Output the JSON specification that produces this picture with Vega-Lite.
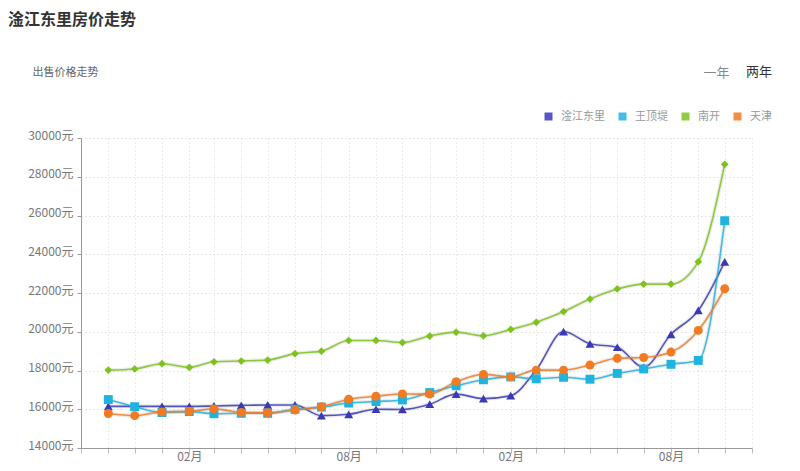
{
  "$schema": "https://vega.github.io/schema/vega-lite/v6.json",
  "width": 671,
  "height": 310,
  "autosize": "none",
  "padding": {"left": 81, "top": 138, "right": 48, "bottom": 23},
  "background": "white",
  "config": {
    "font": "Noto Sans CJK SC",
    "view": {"stroke": null}
  },
  "title": {
    "text": "淦江东里房价走势",
    "anchor": "start",
    "frame": "group",
    "dx": -73,
    "offset": 38,
    "fontSize": 16,
    "fontWeight": "bold",
    "color": "#333333"
  },
  "data": {
    "values": [
      {"month": "2014-11-01", "area": "淦江东里", "price": 16150},
      {"month": "2014-12-01", "area": "淦江东里", "price": 16150},
      {"month": "2015-01-01", "area": "淦江东里", "price": 16150},
      {"month": "2015-02-01", "area": "淦江东里", "price": 16150},
      {"month": "2015-03-01", "area": "淦江东里", "price": 16170},
      {"month": "2015-04-01", "area": "淦江东里", "price": 16200},
      {"month": "2015-05-01", "area": "淦江东里", "price": 16220},
      {"month": "2015-06-01", "area": "淦江东里", "price": 16220},
      {"month": "2015-07-01", "area": "淦江东里", "price": 15670},
      {"month": "2015-08-01", "area": "淦江东里", "price": 15740},
      {"month": "2015-09-01", "area": "淦江东里", "price": 16000},
      {"month": "2015-10-01", "area": "淦江东里", "price": 15990},
      {"month": "2015-11-01", "area": "淦江东里", "price": 16260},
      {"month": "2015-12-01", "area": "淦江东里", "price": 16780},
      {"month": "2016-01-01", "area": "淦江东里", "price": 16550},
      {"month": "2016-02-01", "area": "淦江东里", "price": 16700},
      {"month": "2016-03-01", "area": "淦江东里", "price": 18030},
      {"month": "2016-04-01", "area": "淦江东里", "price": 20010},
      {"month": "2016-05-01", "area": "淦江东里", "price": 19380},
      {"month": "2016-06-01", "area": "淦江东里", "price": 19200},
      {"month": "2016-07-01", "area": "淦江东里", "price": 18160},
      {"month": "2016-08-01", "area": "淦江东里", "price": 19870},
      {"month": "2016-09-01", "area": "淦江东里", "price": 21100},
      {"month": "2016-10-01", "area": "淦江东里", "price": 23610},
      {"month": "2014-11-01", "area": "王顶堤", "price": 16500},
      {"month": "2014-12-01", "area": "王顶堤", "price": 16130},
      {"month": "2015-01-01", "area": "王顶堤", "price": 15830},
      {"month": "2015-02-01", "area": "王顶堤", "price": 15880},
      {"month": "2015-03-01", "area": "王顶堤", "price": 15770},
      {"month": "2015-04-01", "area": "王顶堤", "price": 15790},
      {"month": "2015-05-01", "area": "王顶堤", "price": 15790},
      {"month": "2015-06-01", "area": "王顶堤", "price": 16000},
      {"month": "2015-07-01", "area": "王顶堤", "price": 16110},
      {"month": "2015-08-01", "area": "王顶堤", "price": 16320},
      {"month": "2015-09-01", "area": "王顶堤", "price": 16400},
      {"month": "2015-10-01", "area": "王顶堤", "price": 16480},
      {"month": "2015-11-01", "area": "王顶堤", "price": 16860},
      {"month": "2015-12-01", "area": "王顶堤", "price": 17210},
      {"month": "2016-01-01", "area": "王顶堤", "price": 17520},
      {"month": "2016-02-01", "area": "王顶堤", "price": 17670},
      {"month": "2016-03-01", "area": "王顶堤", "price": 17570},
      {"month": "2016-04-01", "area": "王顶堤", "price": 17650},
      {"month": "2016-05-01", "area": "王顶堤", "price": 17550},
      {"month": "2016-06-01", "area": "王顶堤", "price": 17850},
      {"month": "2016-07-01", "area": "王顶堤", "price": 18080},
      {"month": "2016-08-01", "area": "王顶堤", "price": 18320},
      {"month": "2016-09-01", "area": "王顶堤", "price": 18520},
      {"month": "2016-10-01", "area": "王顶堤", "price": 25730},
      {"month": "2014-11-01", "area": "南开", "price": 18020},
      {"month": "2014-12-01", "area": "南开", "price": 18080},
      {"month": "2015-01-01", "area": "南开", "price": 18350},
      {"month": "2015-02-01", "area": "南开", "price": 18160},
      {"month": "2015-03-01", "area": "南开", "price": 18450},
      {"month": "2015-04-01", "area": "南开", "price": 18490},
      {"month": "2015-05-01", "area": "南开", "price": 18540},
      {"month": "2015-06-01", "area": "南开", "price": 18870},
      {"month": "2015-07-01", "area": "南开", "price": 19000},
      {"month": "2015-08-01", "area": "南开", "price": 19550},
      {"month": "2015-09-01", "area": "南开", "price": 19550},
      {"month": "2015-10-01", "area": "南开", "price": 19440},
      {"month": "2015-11-01", "area": "南开", "price": 19780},
      {"month": "2015-12-01", "area": "南开", "price": 19980},
      {"month": "2016-01-01", "area": "南开", "price": 19790},
      {"month": "2016-02-01", "area": "南开", "price": 20120},
      {"month": "2016-03-01", "area": "南开", "price": 20490},
      {"month": "2016-04-01", "area": "南开", "price": 21040},
      {"month": "2016-05-01", "area": "南开", "price": 21690},
      {"month": "2016-06-01", "area": "南开", "price": 22210},
      {"month": "2016-07-01", "area": "南开", "price": 22460},
      {"month": "2016-08-01", "area": "南开", "price": 22460},
      {"month": "2016-09-01", "area": "南开", "price": 23610},
      {"month": "2016-10-01", "area": "南开", "price": 28640},
      {"month": "2014-11-01", "area": "天津", "price": 15780},
      {"month": "2014-12-01", "area": "天津", "price": 15670},
      {"month": "2015-01-01", "area": "天津", "price": 15860},
      {"month": "2015-02-01", "area": "天津", "price": 15890},
      {"month": "2015-03-01", "area": "天津", "price": 16020},
      {"month": "2015-04-01", "area": "天津", "price": 15840},
      {"month": "2015-05-01", "area": "天津", "price": 15820},
      {"month": "2015-06-01", "area": "天津", "price": 15960},
      {"month": "2015-07-01", "area": "天津", "price": 16130},
      {"month": "2015-08-01", "area": "天津", "price": 16520},
      {"month": "2015-09-01", "area": "天津", "price": 16670},
      {"month": "2015-10-01", "area": "天津", "price": 16790},
      {"month": "2015-11-01", "area": "天津", "price": 16780},
      {"month": "2015-12-01", "area": "天津", "price": 17420},
      {"month": "2016-01-01", "area": "天津", "price": 17800},
      {"month": "2016-02-01", "area": "天津", "price": 17670},
      {"month": "2016-03-01", "area": "天津", "price": 18020},
      {"month": "2016-04-01", "area": "天津", "price": 18020},
      {"month": "2016-05-01", "area": "天津", "price": 18280},
      {"month": "2016-06-01", "area": "天津", "price": 18630},
      {"month": "2016-07-01", "area": "天津", "price": 18670},
      {"month": "2016-08-01", "area": "天津", "price": 18950},
      {"month": "2016-09-01", "area": "天津", "price": 20070},
      {"month": "2016-10-01", "area": "天津", "price": 22220}
    ]
  },
  "encoding": {
    "x": {
      "field": "month",
      "type": "temporal",
      "scale": {
        "type": "utc",
        "domain": [
          {"year": 2014, "month": 10, "date": 1, "utc": true},
          {"year": 2016, "month": 11, "date": 1, "utc": true}
        ]
      },
      "axis": {
        "tickCount": {"interval": "month", "step": 1},
        "labelExpr": "(utcFormat(datum.value, '%m') == '02' || utcFormat(datum.value, '%m') == '08') ? utcFormat(datum.value, '%m') + '月' : ''",
        "labelOverlap": false,
        "labelFlush": false,
        "labelFontSize": 12,
        "labelColor": "#777777",
        "labelPadding": -2,
        "tickSize": 5,
        "tickColor": "#bbbbbb",
        "domainColor": "#999999",
        "grid": true,
        "gridColor": "#d6d6d6",
        "gridDash": [1, 3],
        "title": "出售价格走势",
        "titleX": -49,
        "titleY": -376,
        "titleAlign": "left",
        "titleAnchor": null,
        "titleBaseline": "middle",
        "titleFontSize": 11,
        "titleFontWeight": "normal",
        "titleColor": "#666666"
      }
    },
    "y": {
      "field": "price",
      "type": "quantitative",
      "scale": {"domain": [14000, 30000], "nice": false, "zero": false},
      "axis": {
        "values": [14000, 16000, 18000, 20000, 22000, 24000, 26000, 28000, 30000],
        "labelExpr": "datum.value + '元'",
        "labelFontSize": 12,
        "labelColor": "#777777",
        "labelPadding": 4,
        "labelOffset": -3,
        "tickSize": 4,
        "tickColor": "#999999",
        "domainColor": "#999999",
        "grid": true,
        "gridColor": "#cccccc",
        "gridDash": [1, 3],
        "title": "一年",
        "titleAngle": 0,
        "titleX": 622,
        "titleY": -66,
        "titleAlign": "left",
        "titleAnchor": null,
        "titleBaseline": "middle",
        "titleFontSize": 13,
        "titleFontWeight": "normal",
        "titleColor": "#888888"
      }
    },
    "color": {
      "field": "area",
      "type": "nominal",
      "scale": {
        "domain": ["淦江东里", "王顶堤", "南开", "天津"],
        "range": ["#3b39b5", "#1fb3e0", "#7cc41c", "#f27a21"]
      },
      "legend": {
        "orient": "none",
        "legendX": 462,
        "legendY": -72,
        "direction": "horizontal",
        "symbolType": "square",
        "symbolSize": 64,
        "symbolStrokeWidth": 0,
        "labelFontSize": 11,
        "labelColor": "#999999",
        "labelOffset": 7,
        "columnPadding": 12,
        "gridAlign": "none",
        "padding": 0,
        "title": "两年",
        "titleAnchor": "end",
        "titleFontSize": 13,
        "titleFontWeight": "normal",
        "titleColor": "#333333",
        "titlePadding": 32
      }
    }
  },
  "layer": [
    {
      "mark": {"type": "line", "interpolate": "monotone", "strokeWidth": 4, "opacity": 0.12, "color": "#666666"},
      "encoding": {"color": {"value": "#666666"}, "detail": {"field": "area", "type": "nominal"}}
    },
    {
      "mark": {"type": "line", "interpolate": "monotone", "strokeWidth": 1.6, "opacity": 0.85}
    },
    {
      "transform": [{"filter": "datum.area == '淦江东里'"}],
      "mark": {"type": "point", "filled": true, "size": 80, "opacity": 1, "shape": "triangle-up"}
    },
    {
      "transform": [{"filter": "datum.area == '王顶堤'"}],
      "mark": {"type": "point", "filled": true, "size": 80, "opacity": 1, "shape": "square"}
    },
    {
      "transform": [{"filter": "datum.area == '南开'"}],
      "mark": {"type": "point", "filled": true, "size": 60, "opacity": 1, "shape": "diamond"}
    },
    {
      "transform": [{"filter": "datum.area == '天津'"}],
      "mark": {"type": "point", "filled": true, "size": 80, "opacity": 1, "shape": "circle"}
    }
  ]
}
